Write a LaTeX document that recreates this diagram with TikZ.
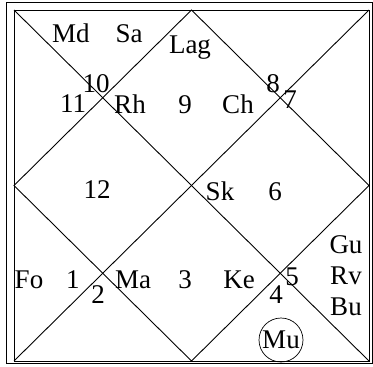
\documentclass[tikz,border=0pt]{standalone}
\usepackage{fontspec}
\setmainfont{Liberation Serif}
\newcommand\chartfont{\fontsize{27}{32}\selectfont}

\begin{document}
\begin{tikzpicture}[
  x=1pt, y=-1pt,
  rule/.style={line width=0.9pt},
  lbl/.style={anchor=base, inner sep=0pt, font=\chartfont},
  ring/.style={draw, circle, line width=0.7pt, minimum size=44pt, inner sep=0pt, font=\chartfont},
]
\useasboundingbox (0,0) rectangle (373,367);
% corners of the chart
\coordinate (nw) at (14,10);
\coordinate (ne) at (369,10);
\coordinate (se) at (369,361);
\coordinate (sw) at (14,361);
\coordinate (n) at (191.5,10);
\coordinate (e) at (369,185.5);
\coordinate (s) at (191.5,361);
\coordinate (w) at (14,185.5);
\draw[rule] (6,2) rectangle (372,363);
\draw[rule] (nw) rectangle (se);
\draw[rule] (nw) -- (se);
\draw[rule] (ne) -- (sw);
\draw[rule] (n) -- (e) -- (s) -- (w) -- cycle;
% house numbers
\node[lbl] (h1) at (73,288) {1};
\node[lbl] (h2) at (98,303) {2};
\node[lbl] (h3) at (185,288) {3};
\node[lbl] (h4) at (276,303) {4};
\node[lbl] (h5) at (292,285) {5};
\node[lbl] (h6) at (275,200) {6};
\node[lbl] (h7) at (290,108) {7};
\node[lbl] (h8) at (273,92) {8};
\node[lbl] (h9) at (185,113) {9};
\node[lbl] (h10) at (96,92) {10};
\node[lbl] (h11) at (73,112) {11};
\node[lbl] (h12) at (97,198) {12};
% planets
\node[lbl] (md) at (71,42) {Md};
\node[lbl] (sa) at (129,42) {Sa};
\node[lbl] (lag) at (190,53) {Lag};
\node[lbl] (rh) at (130,113) {Rh};
\node[lbl] (ch) at (238,113) {Ch};
\node[lbl] (sk) at (220,200) {Sk};
\node[lbl] (fo) at (29,288) {Fo};
\node[lbl] (ma) at (133,288) {Ma};
\node[lbl] (ke) at (239,288) {Ke};
\node[lbl] (gu) at (346,253) {Gu};
\node[lbl] (rv) at (346,284) {Rv};
\node[lbl] (bu) at (346,315) {Bu};
\node[ring] (mu) at (281,340) {Mu};
\end{tikzpicture}
\end{document}
